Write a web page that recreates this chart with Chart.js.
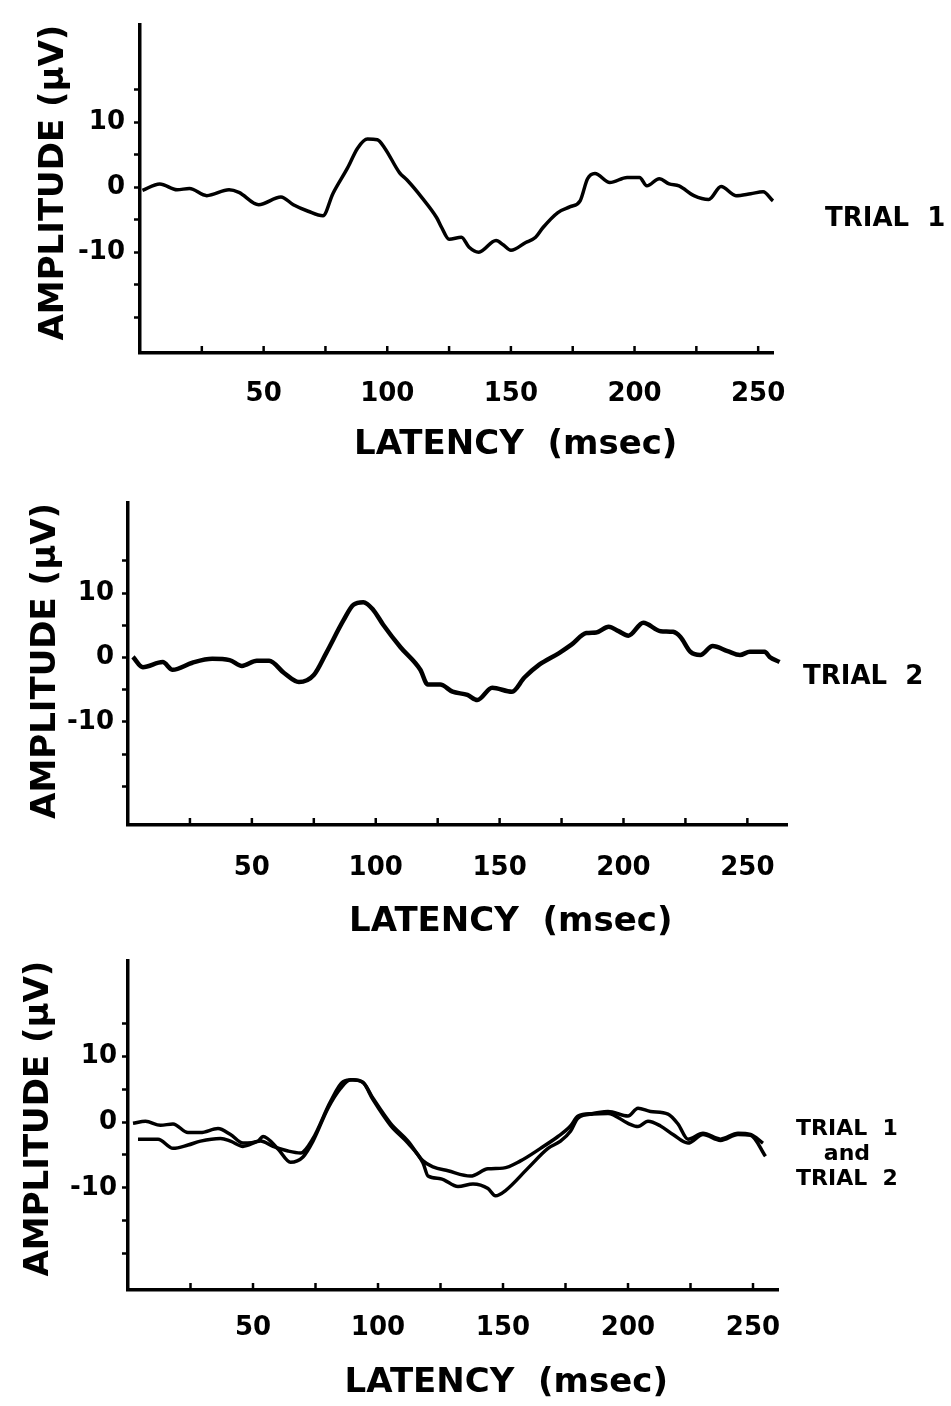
<!DOCTYPE html>
<html>
<head>
<meta charset="utf-8">
<script src="https://cdn.jsdelivr.net/npm/chart.js@4.4.1/dist/chart.umd.min.js"></script>
<style>
  html, body { margin: 0; padding: 0; background: #fff; }
  #page { position: relative; width: 951px; height: 1406px; overflow: hidden; }
  .panel { position: absolute; left: 0; }
  .tag { position: absolute; font-family: 'DejaVu Sans', sans-serif; font-weight: bold; color: #000; white-space: pre; }
</style>
</head>
<body>
<div id="page">
  <canvas id="trial1Chart" class="panel" style="top:0" width="951" height="470"></canvas>
  <canvas id="trial2Chart" class="panel" style="top:470px" width="951" height="480"></canvas>
  <canvas id="bothChart" class="panel" style="top:940px" width="951" height="466"></canvas>

  <div class="tag" style="left:825px;top:202px;font-size:26px;line-height:30px">TRIAL  1</div>
  <div class="tag" style="left:803px;top:660px;font-size:26px;line-height:30px">TRIAL  2</div>
  <div class="tag" style="left:787px;top:1115px;width:120px;text-align:center;font-size:22px;line-height:25px">TRIAL  1<br>and<br>TRIAL  2</div>
</div>
<script>
// latency (msec) / amplitude (uV)
const trial1Latency = [1, 8, 15, 20, 27, 36, 40, 48, 57, 62, 68, 74, 78, 84, 88, 92, 96, 99, 105, 108,
  114, 120, 122, 125, 130, 133, 137, 144, 147, 150, 156, 160, 163, 169, 174, 178, 181, 184, 190, 197,
  202, 205, 210, 214, 218, 224, 230, 235, 241, 247, 252, 256, 261];
const trial1Amplitude = [-0.5, 0.5, -0.4, -0.2, -1.3, -0.4, -0.8, -2.7, -1.5, -2.7, -3.7, -4.4, -1.0, 3.0, 6.0, 7.4, 7.3, 6.0, 2.2, 1.1,
  -1.6, -4.7, -6.2, -8.0, -7.7, -9.2, -10.0, -8.2, -8.9, -9.7, -8.5, -7.7, -6.2, -3.9, -3.0, -2.1, 1.3, 2.1, 0.7, 1.5,
  1.5, 0.2, 1.3, 0.5, 0.2, -1.3, -1.9, 0.1, -1.3, -1.0, -0.7, -2.1, -3.4];

const trial2Latency = [2, 6, 14, 18, 26, 34, 41, 46, 52, 57, 63, 69, 75, 80, 87, 91, 95, 99, 103, 110,
  118, 121, 126, 131, 137, 141, 147, 155, 160, 166, 174, 179, 185, 189, 194, 198, 202, 208, 215, 220,
  223, 227, 231, 236, 242, 247, 251, 257, 259, 263];
const trial2Amplitude = [0.1, -1.5, -0.7, -1.9, -0.8, -0.2, -0.4, -1.3, -0.5, -0.5, -2.4, -3.8, -2.7, 0.7, 5.8, 8.2, 8.6, 7.4, 5.1, 1.6,
  -1.9, -4.2, -4.2, -5.3, -5.8, -6.6, -4.7, -5.3, -3.1, -1.1, 0.7, 2.0, 3.8, 3.9, 4.8, 4.1, 3.4, 5.4, 4.1, 4.0,
  3.2, 0.9, 0.4, 1.8, 1.0, 0.4, 0.9, 0.9, 0.1, -0.7];

// bottom panel: the two traces overlaid
const overlayALatency = [2, 7, 13, 18, 24, 29, 36, 41, 46, 52, 54, 60, 65, 70, 74, 80, 85, 89, 94, 98,
  105, 112, 118, 122, 128, 137, 144, 150, 157, 165, 172, 177, 180, 186, 192, 200, 204, 209, 216, 220,
  224, 230, 237, 244, 249, 254];
const overlayAAmplitude = [-0.2, 0.1, -0.5, -0.3, -1.6, -1.6, -1.0, -1.9, -3.2, -2.9, -2.2, -4.1, -6.1, -5.3, -2.9, 2.1, 5.1, 6.4, 6.0, 3.6,
  -0.2, -2.9, -5.9, -6.8, -7.4, -8.2, -7.1, -7.0, -5.9, -4.0, -2.2, -0.6, 0.9, 1.3, 1.6, 0.9, 2.1, 1.6, 1.2, -0.3,
  -2.6, -1.7, -2.6, -1.7, -1.9, -3.2];
const overlayBLatency = [4, 12, 18, 24, 29, 37, 41, 46, 53, 58, 64, 69, 74, 81, 86, 90, 94, 98, 105, 112,
  118, 120, 125, 132, 138, 144, 147, 151, 160, 168, 173, 177, 180, 186, 192, 200, 204, 208, 213, 218,
  224, 230, 237, 244, 249, 255];
const overlayBAmplitude = [-2.6, -2.6, -4.0, -3.5, -2.9, -2.5, -2.9, -3.7, -2.9, -3.7, -4.4, -4.7, -2.5, 3.1, 6.1, 6.4, 6.0, 3.4, -0.5, -3.2,
  -6.2, -8.2, -8.6, -9.8, -9.4, -10.1, -11.2, -10.4, -7.0, -4.0, -2.9, -1.4, 0.6, 1.2, 1.3, -0.2, -0.7, 0.1, -0.6, -1.9,
  -3.2, -1.9, -2.8, -1.9, -2.0, -5.2];

const yTickValues = [-20, -15, -10, -5, 0, 5, 10, 15];
const yTickLabels = [-10, 0, 10];
const xTickStep = 25;
const xLabelStep = 50;

const FONT = "'DejaVu Sans', sans-serif";
Chart.defaults.font.family = FONT;
Chart.defaults.color = '#000';

// little marks pointing up into the plot, like the original x axis
const innerXTicks = {
    id: 'innerXTicks',
    afterDraw(chart) {
        const xs = chart.scales.x;
        const ctx = chart.ctx;
        const bottom = chart.chartArea.bottom;
        ctx.save();
        ctx.strokeStyle = '#000';
        ctx.lineWidth = 2.5;
        xs.ticks.forEach(t => {
            if (t.value === 0) return;
            const px = xs.getPixelForValue(t.value);
            ctx.beginPath();
            ctx.moveTo(px, bottom);
            ctx.lineTo(px, bottom - 7);
            ctx.stroke();
        });
        ctx.restore();
    }
};

function toPoints(lat, amp) {
    return lat.map((t, i) => ({ x: t, y: amp[i] }));
}

function drawPanel(canvasId, traces, cfg) {
    const ctx = document.getElementById(canvasId).getContext('2d');
    const H = ctx.canvas.height;

    new Chart(ctx, {
        type: 'line',
        data: {
            datasets: traces.map(tr => ({
                data: toPoints(tr[0], tr[1]),
                borderColor: '#000',
                borderWidth: cfg.lineWidth,
                pointRadius: 0,
                cubicInterpolationMode: 'monotone',
                fill: false,
                clip: false
            }))
        },
        options: {
            responsive: false,
            animation: false,
            events: [],
            layout: {
                padding: { top: cfg.top, right: 951 - cfg.right, bottom: cfg.padBottom, left: 0 }
            },
            plugins: {
                legend: { display: false },
                tooltip: { enabled: false }
            },
            scales: {
                x: {
                    type: 'linear',
                    min: 0,
                    max: cfg.xMax,
                    afterFit: s => { s.height = H - cfg.padBottom - cfg.bottom; },
                    grid: { display: false, drawTicks: false },
                    border: { display: true, color: '#000', width: 3.5 },
                    ticks: {
                        stepSize: xTickStep,
                        includeBounds: false,
                        autoSkip: false,
                        maxRotation: 0,
                        padding: cfg.xTickPad,
                        color: '#000',
                        font: { size: 26, weight: 'bold' },
                        callback: v => (v > 0 && v % xLabelStep === 0) ? String(v) : ''
                    },
                    title: {
                        display: true,
                        text: ' '.repeat(cfg.xTitleShift) + 'LATENCY  (msec)',
                        color: '#000',
                        font: { size: 34, weight: 'bold' },
                        padding: { top: 0, bottom: 0 }
                    }
                },
                y: {
                    min: cfg.yMin,
                    max: cfg.yMax,
                    afterFit: s => { s.width = cfg.left; },
                    afterBuildTicks: s => { s.ticks = yTickValues.map(v => ({ value: v })); },
                    grid: {
                        drawOnChartArea: false,
                        drawTicks: true,
                        tickLength: 6,
                        tickWidth: 2.5,
                        tickColor: '#000'
                    },
                    border: { display: true, color: '#000', width: 3.5 },
                    ticks: {
                        autoSkip: false,
                        padding: cfg.yTickPad,
                        color: '#000',
                        font: { size: 26, weight: 'bold' },
                        callback: v => yTickLabels.includes(v) ? String(v) : ''
                    },
                    title: {
                        display: true,
                        text: 'AMPLITUDE (μV)',
                        align: 'end',
                        color: '#000',
                        font: { size: 34, weight: 'bold' },
                        padding: { top: cfg.yTitlePad, bottom: 0 }
                    }
                }
            }
        },
        plugins: [innerXTicks]
    });
}

drawPanel('trial1Chart', [[trial1Latency, trial1Amplitude]], {
    left: 140, right: 773, top: 23, bottom: 353, padBottom: 4.6,
    xMax: 256, yMin: -25.5, yMax: 25,
    xTickPad: 26, yTickPad: 9, yTitlePad: 34, xTitleShift: 10, lineWidth: 3.5
});

drawPanel('trial2Chart', [[trial2Latency, trial2Amplitude]], {
    left: 128, right: 787, top: 33, bottom: 355, padBottom: 7.6,
    xMax: 266, yMin: -26, yMax: 24,
    xTickPad: 28, yTickPad: 8, yTitlePad: 26, xTitleShift: 9, lineWidth: 4.5
});

drawPanel('bothChart', [[overlayALatency, overlayAAmplitude], [overlayBLatency, overlayBAmplitude]], {
    left: 128, right: 778, top: 18, bottom: 350, padBottom: 2.6,
    xMax: 260, yMin: -25.5, yMax: 24.5,
    xTickPad: 23, yTickPad: 5, yTitlePad: 19, xTitleShift: 9, lineWidth: 3.5
});
</script>
</body>
</html>
